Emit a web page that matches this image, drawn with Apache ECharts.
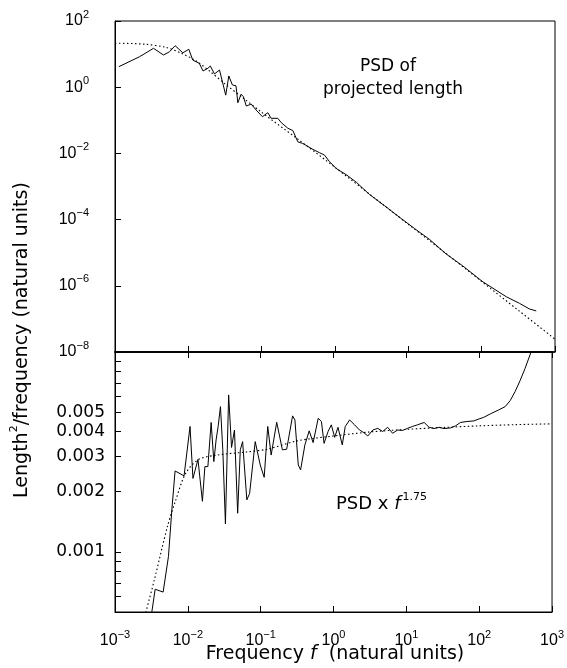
<!DOCTYPE html>
<html><head><meta charset="utf-8">
<script src="https://cdn.jsdelivr.net/npm/echarts@6/dist/echarts.min.js"></script>
<style>html,body{margin:0;padding:0;background:#fff}#c{width:567px;height:668px}</style>
</head><body><div id="c"></div>
<script>
// ---- data ----
const topFreq = [0.00113,0.00216,0.00335,0.00458,0.00553,0.00661,0.00841,0.01016,0.01148,0.01413,0.01585,0.01845,0.01995,0.02275,0.02661,0.03236,0.03565,0.03981,0.04467,0.04732,0.05248,0.05649,0.06166,0.07194,0.08414,0.1023,0.1213,0.1349,0.166,0.1849,0.2275,0.2661,0.3112,0.3631,0.5012,0.6166,0.7194,0.8414,1.038,1.449,1.95,2.951,4.732,7.586,12.13,19.5,32.81,55.34,103.8,216.3,328.1,446.7,554.6];
const topPsd = [4.169,8.318,14.96,9.397,11.75,17.95,10.96,13.96,6.607,5.248,3.09,3.715,4.365,2.512,3.311,0.5754,2.188,1.175,1.096,0.3388,0.6166,0.5129,0.2692,0.309,0.2042,0.1288,0.1698,0.1148,0.1148,0.08511,0.05754,0.04898,0.02239,0.01995,0.01318,0.01047,0.008913,0.005623,0.003508,0.002213,0.001349,0.0005754,0.000263,0.0001175,5.37e-5,2.512e-5,9.12e-6,3.98e-6,1.318e-6,4.68e-7,2.95e-7,2.0e-7,1.74e-7];

const topFitFreq = [0.001,0.00251,0.00501,0.00794,0.0126,0.01995,0.0316,0.0562,0.1,0.316,1,3.16,10,31.6,100,316,1000];
const topFitPsd = [21.4,19.95,15.85,10.72,6.31,2.95,1.259,0.4677,0.1738,0.0263,0.0038,0.000525,7.24e-5,1.0e-5,1.35e-6,1.82e-7,2.45e-8];

const botFreq = [0.00302,0.00321,0.00356,0.00458,0.00542,0.00603,0.00668,0.00887,0.01072,0.01175,0.01377,0.01452,0.01585,0.01714,0.01884,0.02089,0.02275,0.02443,0.02606,0.02805,0.0302,0.03281,0.03631,0.03981,0.04365,0.04831,0.05248,0.05649,0.06457,0.07047,0.08414,0.09863,0.1117,0.125,0.1393,0.166,0.1986,0.2275,0.2742,0.2951,0.3281,0.3532,0.4046,0.4634,0.5248,0.6166,0.6823,0.7413,0.8414,0.9333,1.038,1.151,1.318,1.449,1.663,1.945,2.275,2.606,2.958,3.459,4.046,4.732,5.534,6.471,7.586,8.872,10.38,12.13,14.19,17.54,20.51,23.99,28.05,32.81,40.46,47.32,55.34,68.23,84.33,98.63,115.3,141.9,184.9,227.5,266.1,311.2,363.9,426.6,497.7,554.6];
const botVal = [0.000398,0.000503,0.00065,0.000629,0.000948,0.00162,0.00254,0.0024,0.00424,0.00233,0.0029,0.00288,0.00179,0.00267,0.00267,0.00444,0.00283,0.00363,0.00424,0.00533,0.00324,0.00138,0.0061,0.00333,0.00407,0.00156,0.00324,0.00356,0.00182,0.00196,0.00356,0.00272,0.00236,0.00424,0.00305,0.00445,0.00324,0.00326,0.00479,0.00457,0.00272,0.00257,0.00343,0.00403,0.00352,0.00466,0.00449,0.00349,0.004,0.00432,0.00374,0.0042,0.00343,0.00424,0.00457,0.00432,0.00407,0.00395,0.0038,0.00407,0.00415,0.004,0.0042,0.00392,0.00407,0.00405,0.00415,0.00424,0.00432,0.00444,0.0042,0.00414,0.0042,0.00414,0.00417,0.00427,0.00444,0.00449,0.00452,0.00462,0.00471,0.0049,0.00513,0.00533,0.00571,0.00634,0.00719,0.00828,0.00966,0.011];

const botFitFreq = [0.00224,0.00266,0.00347,0.00525,0.00684,0.00933,0.0141,0.0251,0.0631,0.126,0.316,1,3.16,10,31.6,100,316,1000];
const botFitVal = [0.000398,0.000501,0.000724,0.00134,0.00182,0.00247,0.0029,0.00305,0.00316,0.00327,0.00359,0.0038,0.00398,0.0041,0.00419,0.00427,0.00433,0.00437];

const xTickValues = [0.001,0.01,0.1,1,10,100,1000];
const yTopTickValues = [1e-8,1e-6,1e-4,1e-2,1,100];
const yBotLabelValues = [0.001,0.002,0.003,0.004,0.005];
const yBotTickValues = [0.0006,0.0007,0.0008,0.0009,0.001,0.002,0.003,0.004,0.005,0.006,0.007,0.008,0.009];

// ---- chart ----
const chart = echarts.init(document.getElementById('c'), null, {renderer:'canvas'});
const BLACK = '#000';
function powLabel(v){
  const e = Math.round(Math.log10(v));
  const s = e < 0 ? '\u2212' + (-e) : String(e);
  return '{b|10}{s|' + s + '}';
}
const powRich = {
  b:{fontFamily:'Liberation Sans', fontSize:16, lineHeight:24, color:BLACK},
  s:{fontFamily:'Liberation Sans', fontSize:11, lineHeight:10, color:BLACK, verticalAlign:'top'}
};
const lineAxis = {show:true, lineStyle:{color:BLACK, width:1}};
function pairs(xs, ys){ return xs.map((x,i)=>[x, ys[i]]); }

const option = {
  animation:false,
  backgroundColor:'#fff',
  grid:[
    {left:115, top:21, width:440, height:331, show:true, borderColor:BLACK, borderWidth:1, backgroundColor:'transparent'},
    {left:115, top:352, width:440, height:260, show:true, borderColor:BLACK, borderWidth:1, backgroundColor:'transparent'}
  ],
  xAxis:[
    {gridIndex:0, type:'log', min:0.001, max:1000, position:'bottom',
     axisLine:{show:true, lineStyle:{color:BLACK, width:1.5}},
     axisTick:{show:true, inside:true, length:6, customValues:xTickValues, lineStyle:{color:BLACK}},
     axisLabel:{show:false}, splitLine:{show:false}, minorTick:{show:false}},
    {gridIndex:1, type:'log', min:0.001, max:1000, position:'bottom',
     axisLine:lineAxis,
     axisTick:{show:true, inside:true, length:6, customValues:xTickValues, lineStyle:{color:BLACK}},
     axisLabel:{show:true, customValues:xTickValues, formatter:powLabel, rich:powRich, margin:17},
     splitLine:{show:false}},
    {gridIndex:1, type:'log', min:0.001, max:1000, position:'top',
     axisLine:{show:true, lineStyle:{color:BLACK, width:1.5}},
     axisTick:{show:true, inside:true, length:6, customValues:xTickValues, lineStyle:{color:BLACK}},
     axisLabel:{show:false}, splitLine:{show:false}}
  ],
  yAxis:[
    {gridIndex:0, type:'log', min:1e-8, max:100,
     axisLine:lineAxis,
     axisTick:{show:true, inside:true, length:6, customValues:yTopTickValues, lineStyle:{color:BLACK}},
     axisLabel:{show:true, customValues:yTopTickValues, formatter:powLabel, rich:powRich, margin:26},
     splitLine:{show:false}},
    {gridIndex:1, type:'log', min:0.0005, max:0.01,
     axisLine:lineAxis,
     axisTick:{show:true, inside:true, length:6, customValues:yBotTickValues, lineStyle:{color:BLACK}},
     axisLabel:{show:true, customValues:yBotLabelValues, formatter:v=>v.toFixed(3),
       fontFamily:'DejaVu Sans', fontSize:17, color:BLACK, margin:10},
     splitLine:{show:false}}
  ],
  series:[
    {type:'line', xAxisIndex:0, yAxisIndex:0, data:pairs(topFitFreq, topFitPsd), symbol:'none', smooth:0.3,
     lineStyle:{color:BLACK, width:1.1, type:[1.5,2.5]}, silent:true, z:2},
    {type:'line', xAxisIndex:0, yAxisIndex:0, data:pairs(topFreq, topPsd), symbol:'none',
     lineStyle:{color:BLACK, width:1}, silent:true, z:3},
    {type:'line', xAxisIndex:1, yAxisIndex:1, data:pairs(botFitFreq, botFitVal), symbol:'none', smooth:0.3,
     lineStyle:{color:BLACK, width:1.1, type:[1.5,2.5]}, silent:true, z:2},
    {type:'line', xAxisIndex:1, yAxisIndex:1, data:pairs(botFreq, botVal), symbol:'none',
     lineStyle:{color:BLACK, width:1}, silent:true, z:3}
  ],
  graphic:[
    {type:'text', x:22, y:340, rotation:Math.PI/2, silent:true,
     style:{text:'{a|Length}{s|2}{a|/frequency (natural units)}', textAlign:'center', textVerticalAlign:'middle',
       rich:{a:{fontFamily:'DejaVu Sans', fontSize:19, lineHeight:26, fill:BLACK},
             s:{fontFamily:'DejaVu Sans', fontSize:11, lineHeight:12, fill:BLACK, verticalAlign:'top'}}}},
    {type:'text', x:335, y:654, silent:true,
     style:{text:'{a|Frequency }{i|f}{a|  (natural units)}', textAlign:'center', textVerticalAlign:'middle',
       rich:{a:{fontFamily:'DejaVu Sans', fontSize:19, fill:BLACK},
             i:{fontFamily:'DejaVu Sans', fontStyle:'italic', fontSize:19, fill:BLACK}}}},
    {type:'text', x:388, y:67, silent:true,
     style:{text:'PSD of', font:'17px "DejaVu Sans"', fill:BLACK, textAlign:'center', textVerticalAlign:'middle'}},
    {type:'text', x:393, y:90, silent:true,
     style:{text:'projected length', font:'17px "DejaVu Sans"', fill:BLACK, textAlign:'center', textVerticalAlign:'middle'}},
    {type:'text', x:336, y:504, silent:true,
     style:{text:'{a|PSD x }{i|f}{s|1.75}', textAlign:'left', textVerticalAlign:'middle',
       rich:{a:{fontFamily:'DejaVu Sans', fontSize:18, lineHeight:24, fill:BLACK},
             i:{fontFamily:'DejaVu Sans', fontStyle:'italic', fontSize:18, lineHeight:24, fill:BLACK},
             s:{fontFamily:'DejaVu Sans', fontSize:11, lineHeight:10, fill:BLACK, verticalAlign:'top', padding:[0,0,0,2]}}}}
  ]
};
chart.setOption(option);
</script>
</body></html>
